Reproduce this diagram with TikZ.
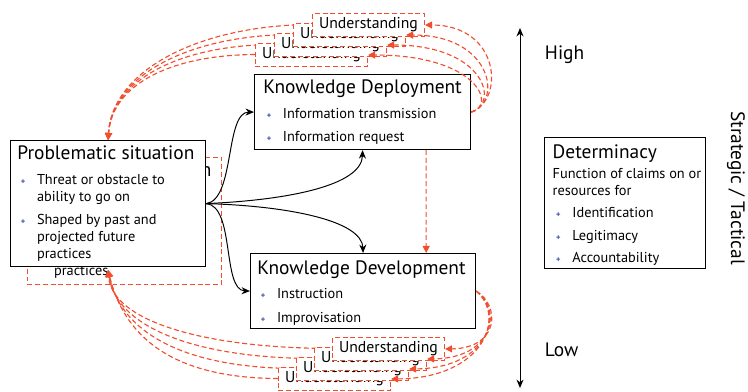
\documentclass[tikz,border=0pt]{standalone}
\usepackage{fontspec}
\setmainfont{PT Sans}
\usetikzlibrary{arrows.meta}
\definecolor{ured}{HTML}{F04E2E}
\definecolor{bulblue}{HTML}{3D4FA6}
\newcommand{\headfont}{\fontsize{13.8}{15}\selectfont}
\newcommand{\bodyfont}{\fontsize{10.2}{12}\selectfont}
\newcommand{\bul}{\makebox[14pt][l]{\hspace*{2.5pt}\textcolor{bulblue}{\fontsize{6}{6}\selectfont\textbf{+}}}}
\newcommand{\ind}{\hspace*{14pt}}
\newcommand{\probtext}{{\headfont Problematic situation}\\[6pt]\bul Threat or obstacle to\\\ind ability to go on\\[4pt]\bul Shaped by past and\\\ind projected future\\\ind practices}
\tikzset{
  box/.style={draw, line width=0.8pt, fill=white, inner sep=0pt, anchor=north west},
  ghostbox/.style={draw=ured, line width=0.7pt, dash pattern=on 3.5pt off 2pt, inner sep=0pt, anchor=north west},
  boxtext/.style={anchor=north west, inner sep=0pt, align=left, font=\bodyfont},
  ubox/.style={draw=ured, fill=white, line width=0.7pt, dash pattern=on 3.5pt off 2pt,
    minimum width=2.8cm, minimum height=0.575cm, inner sep=0pt, anchor=north west,
    font=\fontsize{11.2}{12}\selectfont},
  redash/.style={ured, line width=0.8pt, dash pattern=on 3.5pt off 2pt},
  redarrow/.style={redash, -{Triangle[length=5pt,width=5pt]}},
  flow/.style={line width=0.7pt, -{Stealth[length=6pt,width=5pt]}}
}
\begin{document}
\begin{tikzpicture}[x=0.025cm,y=-0.025cm]
\useasboundingbox (0,0) rectangle (748,391);

% shifted copy of the problem box, left behind
\node[ghostbox, minimum width=4.85cm, minimum height=3.175cm] (ghost) at (27,157) {};
\node[boxtext] (ghosttext) at ([xshift=5pt,yshift=-4pt]ghost.north west) {\probtext};

% main boxes
\node[box, minimum width=4.875cm, minimum height=3.15cm] (prob) at (10,140) {};
\node[boxtext] (probtext) at ([xshift=5pt,yshift=-4pt]prob.north west) {\probtext};

\node[box, minimum width=5.4cm, minimum height=1.875cm] (dep) at (254,74) {};
\node[boxtext] (deptext) at ([xshift=6.4pt,yshift=-4pt]dep.north west)
  {{\headfont Knowledge Deployment}\\[6pt]\bul Information transmission\\[4pt]\bul Information request};

\node[box, minimum width=5.625cm, minimum height=1.875cm] (dev) at (250,253) {};
\node[boxtext] (devtext) at ([xshift=5pt,yshift=-5.5pt]dev.north west)
  {{\headfont Knowledge Development}\\[5pt]\bul Instruction\\[5pt]\bul Improvisation};

\node[box, minimum width=4.025cm, minimum height=3.275cm] (det) at (544,137) {};
\node[boxtext] (dettext) at ([xshift=6pt,yshift=-5.5pt]det.north west)
  {{\headfont Determinacy}\\[2pt]Function of claims on or\\resources for\\[4pt]\bul Identification\\[4pt]\bul Legitimacy\\[4pt]\bul Accountability};

% black fan out of the problem
\draw[flow] (prob.east) .. controls (235,200) and (225,112) .. (dep.west);
\draw[flow] (prob.east) .. controls (290,200) and (362,185) .. (dep.south);
\draw[flow] (prob.east) .. controls (290,206) and (362,221) .. (dev.north);
\draw[flow] (prob.east) .. controls (235,206) and (222,290) .. (dev.west);

% understanding boxes, top and bottom
\coordinate (u1w) at (312,24.5); \coordinate (u2w) at (293,34.5);
\coordinate (u3w) at (274,44.5); \coordinate (u4w) at (255,54.5);
\coordinate (v1w) at (332,348.5); \coordinate (v2w) at (314,358.5);
\coordinate (v3w) at (296,368.5); \coordinate (v4w) at (278,378.5);

\draw[redarrow] (u1w) .. controls (200,25) and (112,70) .. (prob.north);
\draw[redarrow] (u2w) .. controls (190,35) and (112,75) .. (prob.north);
\draw[redarrow] (u3w) .. controls (180,45) and (112,80) .. (prob.north);
\draw[redarrow] (u4w) .. controls (170,55) and (112,85) .. (prob.north);

\draw[redarrow] (v1w) .. controls (200,348) and (112,320) .. ([yshift=-2pt]prob.south);
\draw[redarrow] (v2w) .. controls (190,358) and (116,325) .. ([yshift=-2pt]prob.south);
\draw[redarrow] (v3w) .. controls (180,368) and (120,330) .. ([yshift=-2pt]prob.south);
\draw[redarrow] (v4w) .. controls (170,378) and (124,335) .. ([yshift=-2pt]prob.south);

\node[ubox] (u4) at (255,43) {Understanding};
\node[ubox] (u3) at (274,33) {Understanding};
\node[ubox] (u2) at (293,23) {Understanding};
\node[ubox] (u1) at (312,13) {Understanding};

\node[ubox] (v4) at (278,367) {Understanding};
\node[ubox] (v3) at (296,357) {Understanding};
\node[ubox] (v2) at (314,347) {Understanding};
\node[ubox] (v1) at (332,337) {Understanding};

\draw[redarrow] (dep.east) .. controls (505,100) and (500,25) .. (u1.east);
\draw[redarrow] (dep.east) .. controls (503,102) and (492,35) .. (u2.east);
\draw[redarrow] (dep.east) .. controls (500,104) and (485,45) .. (u3.east);
\draw[redarrow] (dep.east) .. controls (497,106) and (478,55) .. (u4.east);

\draw[redarrow] (dev.east) .. controls (500,305) and (500,348) .. (v1.east);
\draw[redarrow] (dev.east) .. controls (502,308) and (495,358) .. (v2.east);
\draw[redarrow] (dev.east) .. controls (504,312) and (490,368) .. (v3.east);
\draw[redarrow] (dev.east) .. controls (506,316) and (485,378) .. (v4.east);

\draw[redarrow] ([xshift=-1.125cm]dep.south east) -- ([xshift=-1.25cm]dev.north east);

% determinacy scale
\coordinate (axtop) at (520,28);
\coordinate (axbot) at (520,388);
\draw[line width=0.7pt, {Stealth[length=6pt,width=5pt]}-{Stealth[length=6pt,width=5pt]}] (axtop) -- (axbot);
\node[anchor=west, font=\headfont] (high) at (540,55) {High};
\node[anchor=west, font=\headfont] (low) at (540,350) {Low};
\node[rotate=-90, font=\headfont] (strat) at (736,188) {Strategic / Tactical};
\end{tikzpicture}
\end{document}
